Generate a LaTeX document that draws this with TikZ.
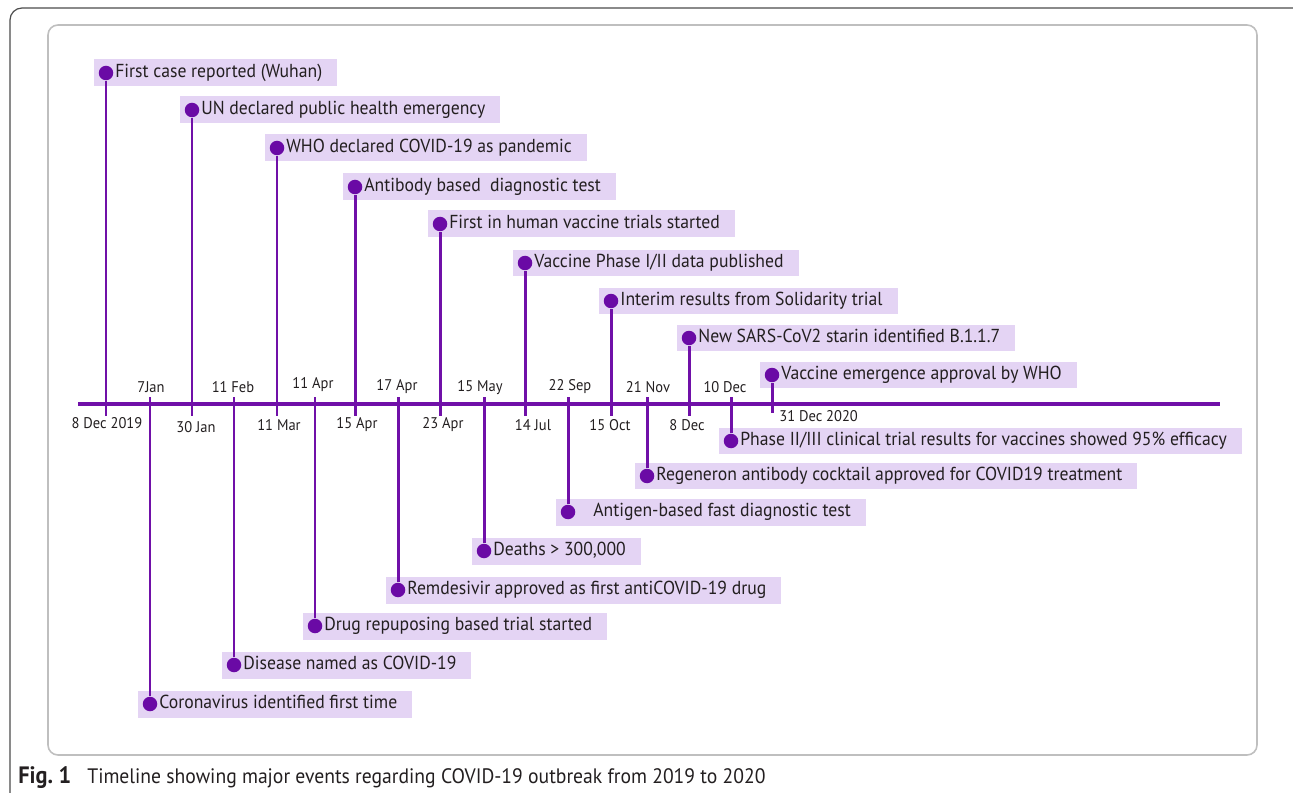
\documentclass[tikz,border=0pt]{standalone}
\usepackage{fontspec}
\setmainfont[FakeStretch=0.94]{PT Sans}
\usepackage{xcolor}
\usepackage{tikz}

\definecolor{tlpurple}{HTML}{7010A8}
\definecolor{dotpurple}{HTML}{6A0AA5}
\definecolor{boxlilac}{HTML}{E4D4F4}
\definecolor{inkgray}{HTML}{231F20}

\tikzset{
	evbox/.style={anchor=west, fill=boxlilac, text=inkgray, font=\fontsize{10.7}{12}\selectfont, minimum height=0.54cm, inner ysep=0pt, inner xsep=0.3cm, text height=1.55ex, text depth=0.45ex, execute at begin node={\hspace*{0.12cm}}},
	evdot/.style={circle, fill=dotpurple, minimum size=0.29cm, inner sep=0pt},
	stem/.style={draw=tlpurple, line width=1.7pt},
	axisline/.style={draw=tlpurple, line width=2.5pt},
	datelbl/.style={text=inkgray, font=\fontsize{8.8}{10}\selectfont, inner sep=0pt},
	outerframe/.style={draw=black!70, line width=0.7pt, rounded corners=0.24cm},
	innerframe/.style={draw=black!25, line width=0.9pt, rounded corners=0.2cm},
	captxt/.style={anchor=base west, text=inkgray, font=\fontsize{11.9}{13}\selectfont, inner sep=0pt}
}

\begin{document}
\begin{tikzpicture}[x=0.02cm, y=-0.02cm]
	\clip (0,0) rectangle (1293,793);
	% Frames:
	\draw[outerframe] (10,8) rectangle (1315,815);
	\draw[innerframe] (48,25) rectangle (1257,755);
	% Events above the axis:
	\node[evbox] (b1) at (94,73) {First case reported (Wuhan)};
	\node[evdot] (d1) at (106,73) {};
	\coordinate (t1) at (106,416);
	\draw[stem] (d1) -- (t1);
	\node[evbox] (b2) at (180,110) {UN declared public health emergency};
	\node[evdot] (d2) at (192,110) {};
	\coordinate (t2) at (192,416);
	\draw[stem] (d2) -- (t2);
	\node[evbox] (b3) at (265,148) {WHO declared COVID-19 as pandemic};
	\node[evdot] (d3) at (277,148) {};
	\coordinate (t3) at (277,416);
	\draw[stem] (d3) -- (t3);
	\node[evbox] (b4) at (343,187) {Antibody based\ \ diagnostic test};
	\node[evdot] (d4) at (355,187) {};
	\coordinate (t4) at (355,416);
	\draw[stem] (d4) -- (t4);
	\node[evbox] (b5) at (428,224) {First in human vaccine trials started};
	\node[evdot] (d5) at (440,224) {};
	\coordinate (t5) at (440,416);
	\draw[stem] (d5) -- (t5);
	\node[evbox] (b6) at (513,263) {Vaccine Phase I/II data published};
	\node[evdot] (d6) at (525,263) {};
	\coordinate (t6) at (525,416);
	\draw[stem] (d6) -- (t6);
	\node[evbox] (b7) at (599,301) {Interim results from Solidarity trial};
	\node[evdot] (d7) at (611,301) {};
	\coordinate (t7) at (611,416);
	\draw[stem] (d7) -- (t7);
	\node[evbox] (b8) at (677,338) {New SARS-CoV2 starin identified B.1.1.7};
	\node[evdot] (d8) at (689,338) {};
	\coordinate (t8) at (689,416);
	\draw[stem] (d8) -- (t8);
	\node[evbox] (b9) at (760,375) {Vaccine emergence approval by WHO};
	\node[evdot] (d9) at (772,375) {};
	\coordinate (t9) at (772,413);
	\draw[stem] (d9) -- (t9);
	% Events below the axis:
	\node[evbox] (b10) at (138,704) {Coronavirus identified first time};
	\node[evdot] (d10) at (150,704) {};
	\coordinate (t10) at (150,397);
	\draw[stem] (d10) -- (t10);
	\node[evbox] (b11) at (222,665) {Disease named as COVID-19};
	\node[evdot] (d11) at (234,665) {};
	\coordinate (t11) at (234,397);
	\draw[stem] (d11) -- (t11);
	\node[evbox] (b12) at (303,626) {Drug repuposing based trial started};
	\node[evdot] (d12) at (315,626) {};
	\coordinate (t12) at (315,397);
	\draw[stem] (d12) -- (t12);
	\node[evbox] (b13) at (386,590) {Remdesivir approved as first antiCOVID-19 drug};
	\node[evdot] (d13) at (398,590) {};
	\coordinate (t13) at (398,397);
	\draw[stem] (d13) -- (t13);
	\node[evbox] (b14) at (472,551) {Deaths > 300,000};
	\node[evdot] (d14) at (484,551) {};
	\coordinate (t14) at (484,397);
	\draw[stem] (d14) -- (t14);
	\node[evbox] (b15) at (556,512) {\hspace*{0.32cm}Antigen-based fast diagnostic test};
	\node[evdot] (d15) at (568,512) {};
	\coordinate (t15) at (568,397);
	\draw[stem] (d15) -- (t15);
	\node[evbox] (b16) at (635,476) {Regeneron antibody cocktail approved for COVID19 treatment};
	\node[evdot] (d16) at (647,476) {};
	\coordinate (t16) at (647,397);
	\draw[stem] (d16) -- (t16);
	\node[evbox] (b17) at (719,441) {Phase II/III clinical trial results for vaccines showed 95\% efficacy};
	\node[evdot] (d17) at (731,441) {};
	\coordinate (t17) at (731,397);
	\draw[stem] (d17) -- (t17);
	% Axis:
	\coordinate (axL) at (78,404);
	\coordinate (axR) at (1220,404);
	\draw[axisline] (axL) -- (axR);
	% Dates:
	\node[datelbl] (l1) at (107,423) {8 Dec 2019};
	\node[datelbl] (l2) at (196,427) {30 Jan};
	\node[datelbl] (l3) at (279,425) {11 Mar};
	\node[datelbl] (l4) at (357,425) {15 Apr};
	\node[datelbl] (l5) at (443,425) {23 Apr};
	\node[datelbl] (l6) at (533,425) {14 Jul};
	\node[datelbl] (l7) at (610,425) {15 Oct};
	\node[datelbl] (l8) at (687,425) {8 Dec};
	\node[datelbl, anchor=west] (l9) at (779,416) {31 Dec 2020};
	\node[datelbl] (l10) at (151,387) {7Jan};
	\node[datelbl] (l11) at (233,387) {11 Feb};
	\node[datelbl] (l12) at (313,385) {11 Apr};
	\node[datelbl] (l13) at (397,387) {17 Apr};
	\node[datelbl] (l14) at (480,388) {15 May};
	\node[datelbl] (l15) at (570,387) {22 Sep};
	\node[datelbl] (l16) at (648,387) {21 Nov};
	\node[datelbl] (l17) at (725,387) {10 Dec};
	% Caption:
	\node[captxt, font=\fontsize{13.5}{14}\selectfont] (cap1) at (18,783) {\textbf{Fig.\ 1}};
	\node[captxt] (cap2) at (87,783) {Timeline showing major events regarding COVID-19 outbreak from 2019 to 2020};
\end{tikzpicture}
\end{document}
